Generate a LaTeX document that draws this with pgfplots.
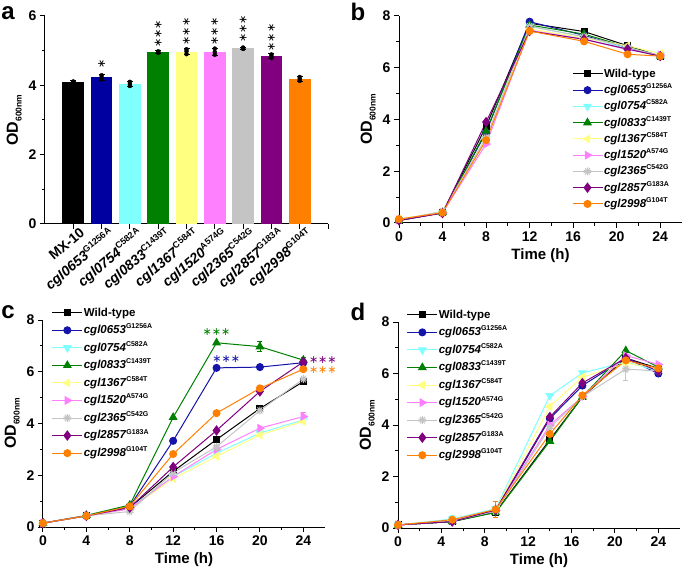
\documentclass[border=0pt]{standalone}
\usepackage{fontspec}
\setmainfont{Liberation Sans}
\newfontfamily\djv{DejaVu Sans}
\usepackage{pgfplots}
\pgfplotsset{compat=1.18}
\usetikzlibrary{plotmarks}

\definecolor{cblue}{RGB}{0,0,160}
\definecolor{lblue}{RGB}{20,20,170}
\definecolor{ccyan}{RGB}{128,255,255}
\definecolor{cgreen}{RGB}{0,128,0}
\definecolor{cyell}{RGB}{255,255,128}
\definecolor{cpink}{RGB}{255,128,255}
\definecolor{cgray}{RGB}{196,196,196}
\definecolor{cpurp}{RGB}{128,0,128}
\definecolor{corange}{RGB}{255,128,0}

% gene name with mutation as superscript
\newcommand{\gn}[2]{\textit{#1}\raisebox{0.8ex}{\fontsize{7}{8}\selectfont #2}}
\newcommand{\gb}[2]{\textit{#1}\raisebox{0.8ex}{\fontsize{9}{10}\selectfont #2}}
\newcommand{\stars}{{\djv ∗∗∗}}

\pgfplotsset{
  panel/.style={
    scale only axis,
    axis x line*=bottom, axis y line*=left,
    axis line style={-, line width=1pt},
    every tick/.style={black, line width=1pt},
    tick align=outside,
    major tick length=5pt, minor tick length=3pt,
    tick label style={font=\fontsize{14}{14}\selectfont\bfseries},
    /pgf/number format/assume math mode=true,
    ylabel={OD\raisebox{-0.45ex}{\fontsize{8.5}{9}\selectfont 600nm}},
    ylabel style={font=\fontsize{16}{16}\selectfont\bfseries},
    xlabel style={font=\fontsize{15}{15}\selectfont\bfseries},
    ymin=0, clip=false,
  },
  growth/.style={
    panel, xmin=0, xmax=26, ymax=8,
    xtick={0,4,...,24}, minor x tick num=1,
    ytick={0,2,...,8}, minor y tick num=1,
    xlabel={Time (h)},
    legend cell align=left,
    legend image code/.code={\draw[mark repeat=2,mark phase=2] plot coordinates {(0pt,0pt) (15pt,0pt) (30pt,0pt)};},
    legend style={draw=none, fill=none, font=\fontsize{11.5}{12}\selectfont\bfseries,
      anchor=north west, row sep=0pt,
      nodes={inner sep=1pt, text height=10.5pt, text depth=3.75pt}},
  },
  ser/.style={line width=1pt,
    error bars/y dir=both, error bars/y explicit,
    error bars/error bar style={line width=0.7pt},
    error bars/error mark options={rotate=90, mark size=2.5pt, line width=0.7pt}},
  wt/.style={ser, black, mark=square*, mark size=3pt},
  g0653/.style={ser, lblue, mark=*, mark size=3.5pt},
  g0754/.style={ser, ccyan, mark=triangle*, mark size=4.2pt, mark options={rotate=180}},
  g0833/.style={ser, cgreen, mark=triangle*, mark size=4.2pt},
  g1367/.style={ser, cyell, mark=triangle*, mark size=4.2pt, mark options={rotate=90}},
  g1520/.style={ser, cpink, mark=triangle*, mark size=4.2pt, mark options={rotate=-90}},
  g2365/.style={ser, cgray, mark=10-pointed star, mark size=4pt},
  g2857/.style={ser, cpurp, mark=diamond*, mark size=4.5pt},
  g2998/.style={ser, corange, mark=*, mark size=3.5pt},
  bar/.style={ybar, bar width=0.77, bar shift=0, draw=none, fill=#1,
    error bars/y dir=both, error bars/y explicit,
    error bars/error bar style={black, line width=0.8pt},
    error bars/error mark options={rotate=90, mark size=3pt, black, line width=0.8pt}},
}

\begin{document}
\begin{tikzpicture}
\useasboundingbox (0,0) rectangle (685pt,570pt);

% ---------------- a ----------------
\begin{axis}[panel, at={(45pt,346pt)}, anchor=south west,
  width=283pt, height=208pt,
  xmin=0, xmax=10, ymax=6,
  ytick={0,2,4,6}, minor y tick num=1,
  xtick={1,...,9},
  extra x ticks={10}, extra x tick labels={},
  xticklabels={MX-10,{\gb{cgl0653}{G1256A}},{\gb{cgl0754}{C582A}},{\gb{cgl0833}{C1439T}},
    {\gb{cgl1367}{C584T}},{\gb{cgl1520}{A574G}},{\gb{cgl2365}{C542G}},{\gb{cgl2857}{G183A}},
    {\gb{cgl2998}{G104T}}},
  xticklabel style={rotate=40, anchor=north east, inner sep=0pt, xshift=6pt, yshift=-2pt,
    font=\fontsize{14}{14}\selectfont\bfseries},
]
\addplot[bar=black]   coordinates {(1,4.10) +- (0,0.03)};
\addplot[bar=cblue]   coordinates {(2,4.23) +- (0,0.08)};
\addplot[bar=ccyan]   coordinates {(3,4.04) +- (0,0.08)};
\addplot[bar=cgreen]  coordinates {(4,4.96) +- (0,0.04)};
\addplot[bar=cyell]   coordinates {(5,4.97) +- (0,0.09)};
\addplot[bar=cpink]   coordinates {(6,4.96) +- (0,0.10)};
\addplot[bar=cgray]   coordinates {(7,5.07) +- (0,0.03)};
\addplot[bar=cpurp]   coordinates {(8,4.84) +- (0,0.07)};
\addplot[bar=corange] coordinates {(9,4.18) +- (0,0.07)};
% replicate points
\addplot[only marks, mark=*, mark size=2pt, black] coordinates {
  (1,4.09) (1,4.11) (1,4.10)
  (2,4.17) (2,4.23) (2,4.29)
  (3,3.98) (3,4.04) (3,4.10)
  (4,4.94) (4,4.96) (4,4.98)
  (5,4.90) (5,4.98) (5,5.04)
  (6,4.88) (6,4.96) (6,5.06)
  (7,5.05) (7,5.07) (7,5.09)
  (8,4.79) (8,4.84) (8,4.89)
  (9,4.13) (9,4.18) (9,4.24)};
\node[font=\fontsize{11}{11}\selectfont, rotate=90] at (axis cs:2,4.62) {{\djv ∗}};
\node[font=\fontsize{11}{11}\selectfont, rotate=90] at (axis cs:4,5.48) {\stars};
\node[font=\fontsize{11}{11}\selectfont, rotate=90] at (axis cs:5,5.55) {\stars};
\node[font=\fontsize{11}{11}\selectfont, rotate=90] at (axis cs:6,5.55) {\stars};
\node[font=\fontsize{11}{11}\selectfont, rotate=90] at (axis cs:7,5.62) {\stars};
\node[font=\fontsize{11}{11}\selectfont, rotate=90] at (axis cs:8,5.38) {\stars};
\end{axis}

% ---------------- b ----------------
\begin{axis}[growth, at={(399pt,347pt)}, anchor=south west,
  width=283pt, height=207pt,
  legend style={at={(axis description cs:0.6,0.77)}},
]
\addplot[wt]    coordinates {(0,0.10) (4,0.40) (8,3.73) (12,7.72) (17,7.40) (21,6.85) (24,6.45)};
\addlegendentry{Wild-type}
\addplot[g0653] coordinates {(0,0.10) (4,0.40) (8,3.50) (12,7.78) (17,7.25) (21,6.75) (24,6.45)};
\addlegendentry{\gn{cgl0653}{G1256A}}
\addplot[g0754] coordinates {(0,0.12) (4,0.40) (8,3.25) (12,7.60) (17,7.20) (21,6.75) (24,6.50)};
\addlegendentry{\gn{cgl0754}{C582A}}
\addplot[g0833] coordinates {(0,0.10) (4,0.40) (8,3.55) (12,7.65) (17,7.30) (21,6.80) (24,6.45)};
\addlegendentry{\gn{cgl0833}{C1439T}}
\addplot[g1367] coordinates {(0,0.15) (4,0.42) (8,3.25) (12,7.50) (17,7.15) (21,6.85) (24,6.55)};
\addlegendentry{\gn{cgl1367}{C584T}}
\addplot[g1520] coordinates {(0,0.12) (4,0.40) (8,3.05) (12,7.45) (17,7.10) (21,6.70) (24,6.50)};
\addlegendentry{\gn{cgl1520}{A574G}}
\addplot[g2365] coordinates {(0,0.12) (4,0.45) (8,3.30) (12,7.60) (17,7.20) (21,6.80) (24,6.45)};
\addlegendentry{\gn{cgl2365}{C542G}}
\addplot[g2857] coordinates {(0,0.10) (4,0.38) (8,3.90) (12,7.42) (17,7.10) (21,6.72) (24,6.45)};
\addlegendentry{\gn{cgl2857}{G183A}}
\addplot[g2998] coordinates {(0,0.15) (4,0.40) (8,3.20) (12,7.42) (17,7.02) (21,6.52) (24,6.45)};
\addlegendentry{\gn{cgl2998}{G104T}}
\end{axis}

% ---------------- c ----------------
\begin{axis}[growth, at={(43pt,43pt)}, anchor=south west,
  width=282pt, height=207pt,
  legend style={at={(axis description cs:0.02,1.085)}, row sep=1.3pt},
]
\addplot[wt]    coordinates {(0,0.15) (4,0.43) (8,0.75) (12,2.15) (16,3.38) (20,4.58) +- (0,0.08) (24,5.62) +- (0,0.08)};
\addlegendentry{Wild-type}
\addplot[g0653] coordinates {(0,0.15) (4,0.43) (8,0.80) (12,3.33) (16,6.15) (20,6.18) (24,6.35)};
\addlegendentry{\gn{cgl0653}{G1256A}}
\addplot[g0754] coordinates {(0,0.15) (4,0.43) (8,0.72) (12,1.95) (16,2.85) (20,3.63) (24,4.14)};
\addlegendentry{\gn{cgl0754}{C582A}}
\addplot[g0833] coordinates {(0,0.15) (4,0.45) (8,0.85) (12,4.24) (16,7.12) (20,6.97) +- (0,0.2) (24,6.45) +- (0,0.1)};
\addlegendentry{\gn{cgl0833}{C1439T}}
\addplot[g1367] coordinates {(0,0.15) (4,0.43) (8,0.70) (12,1.87) (16,2.73) (20,3.56) (24,4.08)};
\addlegendentry{\gn{cgl1367}{C584T}}
\addplot[g1520] coordinates {(0,0.15) (4,0.43) (8,0.70) (12,1.95) (16,3.00) (20,3.82) (24,4.27) +- (0,0.15)};
\addlegendentry{\gn{cgl1520}{A574G}}
\addplot[g2365] coordinates {(0,0.15) (4,0.43) (8,0.60) (12,2.10) (16,3.10) (20,4.50) (24,5.72)};
\addlegendentry{\gn{cgl2365}{C542G}}
\addplot[g2857] coordinates {(0,0.15) (4,0.43) (8,0.75) (12,2.32) (16,3.73) (20,5.24) (24,6.38)};
\addlegendentry{\gn{cgl2857}{G183A}}
\addplot[g2998] coordinates {(0,0.15) (4,0.43) (8,0.80) (12,2.82) (16,4.40) (20,5.36) (24,6.10)};
\addlegendentry{\gn{cgl2998}{G104T}}
\node[cgreen, font=\fontsize{11}{11}\selectfont] at (axis cs:16,7.55) {\stars};
\node[lblue, font=\fontsize{11}{11}\selectfont] at (axis cs:16.9,6.5) {\stars};
\node[cpurp, font=\fontsize{11}{11}\selectfont] at (axis cs:25.8,6.45) {\stars};
\node[corange, font=\fontsize{11}{11}\selectfont] at (axis cs:25.8,6.07) {\stars};
\end{axis}

% ---------------- d ----------------
\begin{axis}[growth, at={(398pt,42pt)}, anchor=south west,
  width=282pt, height=206pt,
  legend style={at={(axis description cs:0.02,1.085)}, row sep=1.3pt},
]
\addplot[wt]    coordinates {(0,0.12) (5,0.25) (9,0.62) (14,3.43) +- (0,0.1) (17,5.09) (21,6.60) (24,6.20)};
\addlegendentry{Wild-type}
\addplot[g0653] coordinates {(0,0.12) (5,0.25) (9,0.65) (14,4.25) (17,5.53) (21,6.60) (24,6.00) +- (0,0.1)};
\addlegendentry{\gn{cgl0653}{G1256A}}
\addplot[g0754] coordinates {(0,0.12) (5,0.35) +- (0,0.15) (9,0.75) (14,5.14) (17,6.02) (21,6.45) (24,6.10)};
\addlegendentry{\gn{cgl0754}{C582A}}
\addplot[g0833] coordinates {(0,0.12) (5,0.25) (9,0.60) (14,3.37) (17,5.09) (21,6.89) (24,6.25)};
\addlegendentry{\gn{cgl0833}{C1439T}}
\addplot[g1367] coordinates {(0,0.12) (5,0.30) (9,0.70) (14,4.72) (17,5.86) (21,6.40) (24,6.20)};
\addlegendentry{\gn{cgl1367}{C584T}}
\addplot[g1520] coordinates {(0,0.12) (5,0.28) (9,0.68) (14,4.00) (17,5.10) (21,6.70) (24,6.35)};
\addlegendentry{\gn{cgl1520}{A574G}}
\addplot[g2365] coordinates {(0,0.12) (5,0.28) (9,0.65) (14,3.90) (17,5.10) (21,6.17) +- (0,0.45) (24,6.10)};
\addlegendentry{\gn{cgl2365}{C542G}}
\addplot[g2857] coordinates {(0,0.12) (5,0.25) (9,0.70) +- (0,0.15) (14,4.31) (17,5.63) (21,6.60) (24,6.10)};
\addlegendentry{\gn{cgl2857}{G183A}}
\addplot[g2998] coordinates {(0,0.12) (5,0.32) (9,0.72) +- (0,0.3) (14,3.65) (17,5.15) (21,6.51) (24,6.20)};
\addlegendentry{\gn{cgl2998}{G104T}}
\end{axis}

\node[font=\fontsize{24}{24}\selectfont\bfseries] at (8pt,557pt) {a};
\node[font=\fontsize{24}{24}\selectfont\bfseries] at (358pt,558pt) {b};
\node[font=\fontsize{24}{24}\selectfont\bfseries] at (8pt,258pt) {c};
\node[font=\fontsize{24}{24}\selectfont\bfseries] at (358pt,258pt) {d};
\end{tikzpicture}
\end{document}
